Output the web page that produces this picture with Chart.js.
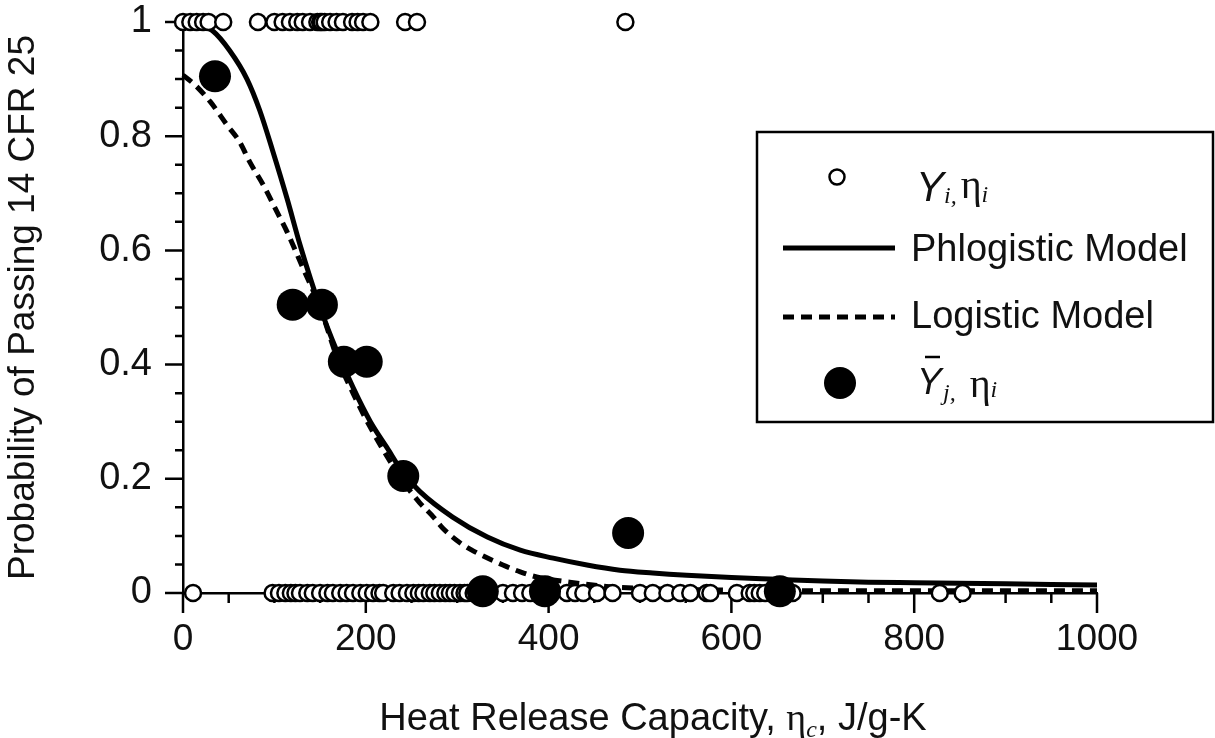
<!DOCTYPE html>
<html>
<head>
<meta charset="utf-8">
<title>Probability of Passing 14 CFR 25</title>
<script src="https://cdn.jsdelivr.net/npm/chart.js@4.4.1/dist/chart.umd.min.js"></script>
<style>
  html, body { margin: 0; padding: 0; background: #fff; }
  #wrap { width: 1215px; height: 738px; }
</style>
</head>
<body>
<div id="wrap"><canvas id="chart" width="1215" height="738"></canvas></div>
<script>
// individual materials: heat release capacity of the ones that passed (Y = 1) and failed (Y = 0)
const passX = [0, 8, 15, 22, 28, 44, 82, 100, 109, 117, 125, 131, 139, 147, 150, 152, 155, 161, 168, 175, 185, 191, 197, 205, 243, 256, 484];
const failX = [11, 98, 105, 112, 118, 123, 128, 136, 142, 150, 158, 164, 172, 179, 186, 194, 201, 208, 215, 219, 230, 237,
  245, 252, 258, 263, 270, 275, 281, 287, 292, 297, 303, 308, 311, 318, 350, 361, 371, 380, 420, 429, 438, 453, 470,
  500, 514, 530, 544, 555, 573, 577, 606, 620, 625, 631, 637, 667, 828, 853];

// group averages (Ybar_j)
const meanX = [35, 120, 152, 176, 201, 241, 328, 396, 487, 653];
const meanY = [0.905, 0.505, 0.505, 0.405, 0.405, 0.205, 0.003, 0.003, 0.105, 0.003];

// fitted curves
const phloX = [0, 15, 32, 51, 70, 84, 98, 114, 128, 150, 168, 186, 205, 223, 241, 259, 295, 333, 369, 405, 442, 478, 514, 551, 600, 650, 700, 750, 800, 850, 900, 950, 1000];
const phloY = [1.0, 0.997, 0.985, 0.95, 0.9, 0.845, 0.775, 0.69, 0.61, 0.5, 0.425, 0.36, 0.3, 0.255, 0.21, 0.178, 0.133, 0.098, 0.075, 0.061, 0.049, 0.04, 0.035, 0.031, 0.027, 0.024, 0.021, 0.019, 0.018, 0.017, 0.016, 0.015, 0.014];
const logX = [0, 13, 30, 48, 62, 73, 88, 103, 114, 131, 150, 168, 186, 205, 223, 241, 259, 274, 284, 303, 322, 350, 369, 387, 423, 460, 500, 550, 600, 700, 800, 900, 1000];
const logY = [0.907, 0.89, 0.86, 0.82, 0.79, 0.755, 0.714, 0.667, 0.632, 0.57, 0.5, 0.415, 0.35, 0.29, 0.24, 0.195, 0.158, 0.133, 0.114, 0.088, 0.07, 0.049, 0.037, 0.028, 0.019, 0.012, 0.008, 0.006, 0.005, 0.004, 0.004, 0.004, 0.004];

const xTicks = [0, 200, 400, 600, 800, 1000];
const yTicks = [0, 0.2, 0.4, 0.6, 0.8, 1];

const SANS = "'Liberation Sans', Arial, sans-serif";
const SERIF = "'Liberation Serif', 'Times New Roman', serif";
const INK = '#111';

const pts = (xs, ys) => xs.map((x, i) => ({ x, y: ys[i] }));

// draw a run of text pieces, each with its own font / offset
function drawRuns(ctx, x, y, runs) {
  runs.forEach((r) => {
    ctx.font = r.font;
    ctx.fillText(r.text, x + (r.dx || 0), y + (r.dy || 0));
    x += ctx.measureText(r.text).width + (r.dx || 0);
  });
}

function runsWidth(ctx, runs) {
  return runs.reduce((w, r) => {
    ctx.font = r.font;
    return w + ctx.measureText(r.text).width + (r.dx || 0);
  }, 0);
}

// major + minor tick marks, pointing outward
const tickMarks = {
  id: 'tickMarks',
  beforeDatasetsDraw(chart) {
    const { ctx, chartArea: a, scales: { x, y } } = chart;
    ctx.save();
    ctx.strokeStyle = '#000';
    ctx.lineWidth = 2.5;
    ctx.beginPath();
    for (let v = 0; v <= 1000; v += 50) {
      const px = x.getPixelForValue(v);
      const len = v % 200 === 0 ? 20 : 10;
      ctx.moveTo(px, a.bottom);
      ctx.lineTo(px, a.bottom + len);
    }
    for (let i = 0; i <= 20; i++) {
      const py = y.getPixelForValue(i * 0.05);
      const len = i % 4 === 0 ? 18 : 8;
      ctx.moveTo(a.left, py);
      ctx.lineTo(a.left - len, py);
    }
    ctx.stroke();
    ctx.restore();
  }
};

// x title with eta_c and the boxed legend
const extras = {
  id: 'extras',
  afterDraw(chart) {
    const { ctx } = chart;
    ctx.save();
    ctx.fillStyle = INK;
    ctx.textBaseline = 'alphabetic';
    ctx.textAlign = 'left';

    const xTitle = [
      { text: 'Heat Release Capacity, ', font: `38px ${SANS}` },
      { text: 'η', font: `38px ${SERIF}` },
      { text: 'c', font: `italic 24px ${SERIF}`, dy: 7 },
      { text: ', J/g-K', font: `38px ${SANS}` }
    ];
    drawRuns(ctx, 653 - runsWidth(ctx, xTitle) / 2, 730, xTitle);

    // legend box
    ctx.strokeStyle = '#000';
    ctx.lineWidth = 2.5;
    ctx.strokeRect(757, 132, 456, 290);

    // open circle
    ctx.beginPath();
    ctx.arc(837, 177, 7.5, 0, Math.PI * 2);
    ctx.fillStyle = '#fff';
    ctx.fill();
    ctx.stroke();
    ctx.fillStyle = INK;
    drawRuns(ctx, 916, 201, [
      { text: 'Y', font: `italic 42px ${SANS}` },
      { text: 'i,', font: `italic 24px ${SERIF}`, dy: 2 },
      { text: 'η', font: `40px ${SERIF}`, dx: 4, dy: -3 },
      { text: 'i', font: `italic 24px ${SERIF}`, dy: 1 }
    ]);

    // solid line
    ctx.beginPath();
    ctx.lineWidth = 5;
    ctx.moveTo(783, 248);
    ctx.lineTo(895, 248);
    ctx.stroke();
    ctx.font = `38px ${SANS}`;
    ctx.fillText('Phlogistic Model', 911, 261);

    // dashed line
    ctx.beginPath();
    ctx.setLineDash([11, 7]);
    ctx.moveTo(783, 317);
    ctx.lineTo(895, 317);
    ctx.stroke();
    ctx.setLineDash([]);
    ctx.fillText('Logistic Model', 911, 328);

    // filled circle
    ctx.beginPath();
    ctx.arc(840, 383, 16, 0, Math.PI * 2);
    ctx.fillStyle = '#000';
    ctx.fill();
    ctx.fillStyle = INK;
    ctx.font = `italic 37px ${SANS}`;
    ctx.fillText('Y', 917, 394);
    ctx.lineWidth = 2.5;
    ctx.beginPath();
    ctx.moveTo(925, 357);
    ctx.lineTo(940, 357);
    ctx.stroke();
    drawRuns(ctx, 943, 400, [
      { text: 'j,', font: `italic 24px ${SERIF}` },
      { text: 'η', font: `40px ${SERIF}`, dx: 14, dy: -3 },
      { text: 'i', font: `italic 24px ${SERIF}`, dy: -3 }
    ]);

    ctx.restore();
  }
};

new Chart(document.getElementById('chart'), {
  type: 'scatter',
  data: {
    datasets: [
      {
        label: 'Ybar_j, eta_i',
        data: pts(meanX, meanY),
        pointRadius: 16,
        pointBackgroundColor: '#000',
        pointBorderColor: '#000',
        pointBorderWidth: 0,
        clip: false,
        order: 0
      },
      {
        label: 'Y_i, eta_i',
        data: passX.map((x) => ({ x, y: 1 })).concat(failX.map((x) => ({ x, y: 0 }))),
        pointRadius: 8,
        pointBackgroundColor: '#fff',
        pointBorderColor: '#000',
        pointBorderWidth: 2.5,
        clip: false,
        order: 1
      },
      {
        type: 'line',
        label: 'Phlogistic Model',
        data: pts(phloX, phloY),
        borderColor: '#000',
        borderWidth: 5,
        pointRadius: 0,
        cubicInterpolationMode: 'monotone',
        fill: false,
        clip: false,
        order: 2
      },
      {
        type: 'line',
        label: 'Logistic Model',
        data: pts(logX, logY),
        borderColor: '#000',
        borderWidth: 5,
        borderDash: [11, 7],
        pointRadius: 0,
        cubicInterpolationMode: 'monotone',
        fill: false,
        clip: false,
        order: 3
      }
    ]
  },
  options: {
    responsive: false,
    animation: false,
    layout: { padding: { top: 22, right: 118, bottom: 0, left: 0 } },
    plugins: {
      legend: { display: false },
      tooltip: { enabled: false }
    },
    scales: {
      x: {
        type: 'linear',
        min: 0,
        max: 1000,
        afterBuildTicks: (s) => { s.ticks = xTicks.map((v) => ({ value: v })); },
        afterFit: (s) => {
          s.height = 145;
          s.paddingLeft = 0;
          s.paddingRight = 0;
        },
        grid: { display: false, drawTicks: false },
        border: { display: true, color: '#000', width: 2.5 },
        ticks: {
          padding: 25,
          color: INK,
          font: { family: SANS, size: 37 },
          maxRotation: 0,
          autoSkip: false,
          callback: (v) => String(v)
        }
      },
      y: {
        type: 'linear',
        min: 0,
        max: 1,
        afterBuildTicks: (s) => { s.ticks = yTicks.map((v) => ({ value: v })); },
        afterFit: (s) => {
          s.width = 183;
          s.paddingTop = 0;
          s.paddingBottom = 0;
        },
        grid: { display: false, drawTicks: false },
        border: { display: true, color: '#000', width: 2.5 },
        ticks: {
          padding: 31,
          color: INK,
          font: { family: SANS, size: 38 },
          autoSkip: false,
          callback: (v) => String(v)
        },
        title: {
          display: true,
          text: 'Probability of Passing 14 CFR 25',
          color: INK,
          font: { family: SANS, size: 37 },
          padding: { top: 2, bottom: 0 }
        }
      }
    }
  },
  plugins: [tickMarks, extras]
});
</script>
</body>
</html>
